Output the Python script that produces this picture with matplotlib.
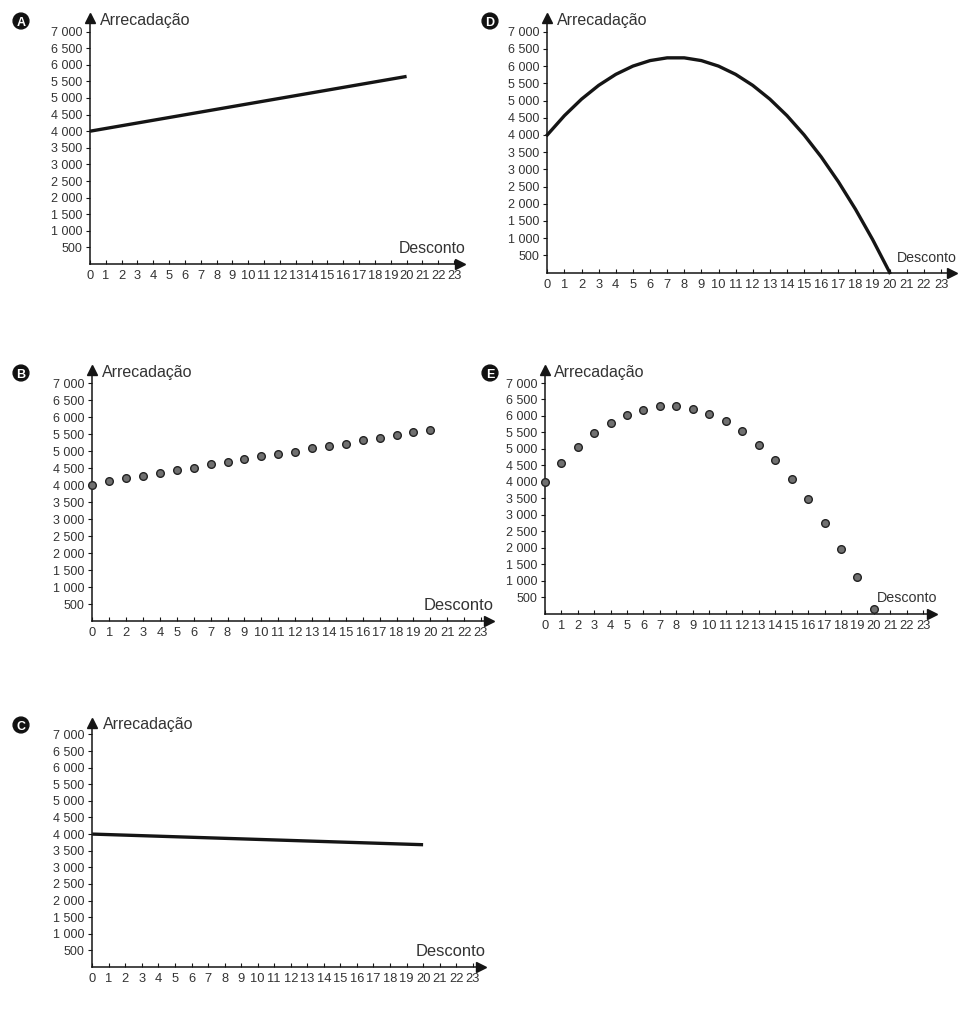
'''
* arrecadacao.py
* Five small panels (A-E): Arrecadacao x Desconto
'''

#- Import libraries
import matplotlib
matplotlib.use('Agg')
import matplotlib.pyplot as plt
from matplotlib.patches import Circle

plt.rcParams['font.family'] = ['Liberation Sans', 'DejaVu Sans']

#- Data
desconto = list(range(21))                 # 0 .. 20
line_x = [0, 20]
arrec_A = [4000, 5650]                     # straight line, rising
arrec_C = [4000, 3680]                     # straight line, falling
arrec_B = [4000, 4120, 4200, 4280, 4370, 4450, 4500, 4610, 4680, 4760, 4860,
           4920, 4990, 5090, 5150, 5220, 5320, 5390, 5470, 5560, 5630]
arrec_D = [4000, 4560, 5040, 5440, 5760, 6000, 6160, 6240, 6240, 6160, 6000,
           5760, 5440, 5040, 4560, 4000, 3360, 2640, 1840, 960, 0]
arrec_E = [4000, 4580, 5060, 5470, 5800, 6030, 6190, 6310, 6310, 6220, 6060,
           5840, 5540, 5130, 4650, 4100, 3480, 2760, 1970, 1110, 150]

xticks = list(range(24))
yticks = list(range(500, 7001, 500))
ytick_labels = ['500', '1 000', '1 500', '2 000', '2 500', '3 000', '3 500',
                '4 000', '4 500', '5 000', '5 500', '6 000', '6 500', '7 000']

W, H = 972, 1024
ink = '#151515'
grey_txt = '#333333'

fig = plt.figure(figsize=(W / 100, H / 100), dpi=100)
fig.patch.set_facecolor('white')


def badge(letter, cx, cy):
    #- black disc with white letter, given in pixel coords (top-left origin)
    c = Circle((cx / 100, (H - cy) / 100), 0.079, transform=fig.dpi_scale_trans,
               color='#111111', zorder=5)
    fig.add_artist(c)
    fig.text(cx / W, 1 - cy / H, letter, color='white', fontsize=9,
             fontweight='bold', ha='center', va='center_baseline', zorder=6)


def panel(letter, badge_xy, ax0x, pxu, y0, pyk, xtip, ytip,
          ylab_xy, dlab_xy, dsize, ysize=11.5):
    xright = xtip - 5
    ytop = ytip + 5
    rect = [ax0x / W, 1 - y0 / H, (xright - ax0x) / W, (y0 - ytop) / H]
    ax = fig.add_axes(rect)
    ax.set_xlim(0, (xright - ax0x) / pxu)
    ax.set_ylim(0, (y0 - ytop) / pyk * 1000)
    ax.patch.set_alpha(0)

    for s in ['top', 'right']:
        ax.spines[s].set_visible(False)
    for s in ['left', 'bottom']:
        ax.spines[s].set_color(ink)
        ax.spines[s].set_linewidth(1.1)

    ax.set_xticks(xticks)
    ax.set_xticklabels([str(t) for t in xticks])
    ax.set_yticks(yticks)
    ax.set_yticklabels(ytick_labels)
    ax.tick_params(axis='x', direction='in', length=3, width=0.8, color=ink,
                   pad=4.5, labelsize=9.3, labelcolor=grey_txt)
    ax.tick_params(axis='y', direction='out', length=3, width=0.8, color=ink,
                   pad=2.5, labelsize=9, labelcolor=grey_txt)

    #- arrow heads
    ax.plot([1], [0], marker='>', ms=7, color=ink, transform=ax.transAxes,
            clip_on=False)
    ax.plot([0], [1], marker='^', ms=7, color=ink, transform=ax.transAxes,
            clip_on=False)

    fig.text(ylab_xy[0] / W, 1 - ylab_xy[1] / H, 'Arrecadação', fontsize=ysize,
             color=grey_txt, ha='left', va='center')
    fig.text(dlab_xy[0] / W, 1 - dlab_xy[1] / H, 'Desconto', fontsize=dsize,
             color=grey_txt, ha='right', va='baseline')
    badge(letter, *badge_xy)
    return ax


#- A
pA = panel('A', (21, 21), 90, 15.83, 264, 33.2, 465, 13, (100, 20), (465, 253), 11.4)
pA.plot(line_x, arrec_A, color=ink, lw=2.4, solid_capstyle='butt', clip_on=False)

#- B
pB = panel('B', (21, 373), 92.3, 16.9, 621, 33.95, 494, 365, (102, 373), (494, 610), 11.9)
pB.plot(desconto, arrec_B, 'o', ms=5.5, mfc='#707070', mec='#222222', mew=1,
        clip_on=False, zorder=4)

#- C
pC = panel('C', (21, 725), 92.3, 16.54, 967, 33.23, 486, 718, (103, 725), (486, 956), 11.9)
pC.plot(line_x, arrec_C, color=ink, lw=2.4, solid_capstyle='butt', clip_on=False)

#- D
pD = panel('D', (490, 21), 547.3, 17.12, 272.5, 34.4, 957, 13, (557, 20), (957, 262), 10.2)
pD.plot(desconto, arrec_D, color=ink, lw=2.4, solid_joinstyle='round', clip_on=False)

#- E
pE = panel('E', (490, 373), 544.7, 16.46, 613.8, 32.97, 937, 365, (554, 373), (937, 602), 10.3)
pE.plot(desconto, arrec_E, 'o', ms=5.5, mfc='#707070', mec='#222222', mew=1,
        clip_on=False, zorder=4)

plt.savefig('out.png', dpi=100, facecolor='white')
